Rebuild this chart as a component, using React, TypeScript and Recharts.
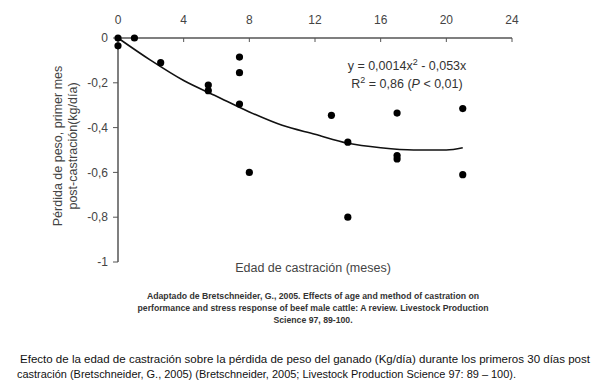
import {
  ComposedChart,
  Line,
  Scatter,
  XAxis,
  YAxis,
} from "recharts";

// observed points (age in months, weight loss kg/day)
const castrationAge = [0, 0, 1, 2.6, 5.5, 5.5, 7.4, 7.4, 7.4, 8, 13, 14, 14, 17, 17, 17, 21, 21];
const weightLoss = [0, -0.035, 0, -0.11, -0.21, -0.235, -0.085, -0.155, -0.295, -0.6, -0.345, -0.465, -0.8, -0.335, -0.525, -0.54, -0.315, -0.61];

// fitted curve
const trendAge = [0, 2, 4, 6, 8, 10, 12, 14, 16, 18, 20, 21];
const trendLoss = [0, -0.1, -0.19, -0.26, -0.33, -0.39, -0.43, -0.47, -0.49, -0.5, -0.5, -0.49];

const xTicks = [0, 4, 8, 12, 16, 20, 24];
const yTicks = [-1, -0.8, -0.6, -0.4, -0.2, 0];

const points = castrationAge.map((x, i) => ({ x, y: weightLoss[i] }));
const trend = trendAge.map((x, i) => ({ x, y: trendLoss[i] }));

const FONT = "'Liberation Sans', Arial, sans-serif";
const fmt = (v: number) => String(v).replace(".", ",");

export default function App() {
  return (
    <div
      style={{
        position: "absolute",
        left: 0,
        top: 0,
        width: 600,
        height: 391,
        background: "#fff",
        fontFamily: FONT,
      }}
    >
      <ComposedChart
        width={600}
        height={275}
        margin={{ top: 8, right: 88, bottom: 13, left: 0 }}
      >
        <XAxis
          dataKey="x"
          type="number"
          orientation="top"
          domain={[0, 24]}
          ticks={xTicks}
          height={30}
          tickSize={-4}
          tickMargin={18}
          tick={{ fill: "#444", fontSize: 12, fontFamily: FONT }}
          tickLine={{ stroke: "#555" }}
          axisLine={{ stroke: "#555", strokeWidth: 1.5 }}
        />
        <YAxis
          dataKey="y"
          type="number"
          domain={[-1, 0]}
          ticks={yTicks}
          width={118}
          tickSize={5}
          tickMargin={5}
          tickFormatter={fmt}
          tick={{ fill: "#444", fontSize: 12, fontFamily: FONT }}
          tickLine={{ stroke: "#555" }}
          axisLine={{ stroke: "#555", strokeWidth: 1.5 }}
        />
        <Line
          data={trend}
          dataKey="y"
          type="monotone"
          stroke="#111"
          strokeWidth={1.6}
          dot={false}
          activeDot={false}
          isAnimationActive={false}
        />
        <Scatter
          data={points}
          dataKey="y"
          fill="#000"
          shape={(p: any) => <circle cx={p.cx} cy={p.cy} r={3.6} fill="#000" />}
          isAnimationActive={false}
        />
      </ComposedChart>

      <svg
        width={600}
        height={391}
        style={{ position: "absolute", left: 0, top: 0, pointerEvents: "none" }}
      >
        <g transform="translate(62,146) rotate(-90)" fontFamily={FONT} fontSize={12.5} fill="#444" textAnchor="middle">
          <text x={0} y={0}>Pérdida de peso, primer mes</text>
          <text x={0} y={15}>post-castración(kg/día)</text>
        </g>
        <text x={407} y={70} fontFamily={FONT} fontSize={12.5} fill="#333" textAnchor="middle">
          y = 0,0014x<tspan dy={-5} fontSize={9}>2</tspan><tspan dy={5}> - 0,053x</tspan>
        </text>
        <text x={407} y={88} fontFamily={FONT} fontSize={12.5} fill="#333" textAnchor="middle">
          R<tspan dy={-5} fontSize={9}>2</tspan><tspan dy={5}> = 0,86 (</tspan><tspan fontStyle="italic">P</tspan> &lt; 0,01)
        </text>
        <text x={313} y={272} fontFamily={FONT} fontSize={12.5} fill="#444" textAnchor="middle">
          Edad de castración (meses)
        </text>
        <g fontFamily={FONT} fontSize={8.7} fontWeight="bold" fill="#333" textAnchor="middle">
          <text x={313} y={299}>Adaptado de Bretschneider, G., 2005. Effects of age and method of castration on</text>
          <text x={313} y={311}>performance and stress response of beef male cattle: A review. Livestock Production</text>
          <text x={313} y={323}>Science 97, 89-100.</text>
        </g>
        <g fontFamily={FONT} fontSize={11.6} fill="#111">
          <text x={20} y={363} textLength={570} lengthAdjust="spacingAndGlyphs">
            Efecto de la edad de castración sobre la pérdida de peso del ganado (Kg/día) durante los primeros 30 días post
          </text>
          <text x={17} y={378} textLength={499} lengthAdjust="spacingAndGlyphs">
            castración (Bretschneider, G., 2005) (Bretschneider, 2005; Livestock Production Science 97: 89 – 100).
          </text>
        </g>
      </svg>
    </div>
  );
}
